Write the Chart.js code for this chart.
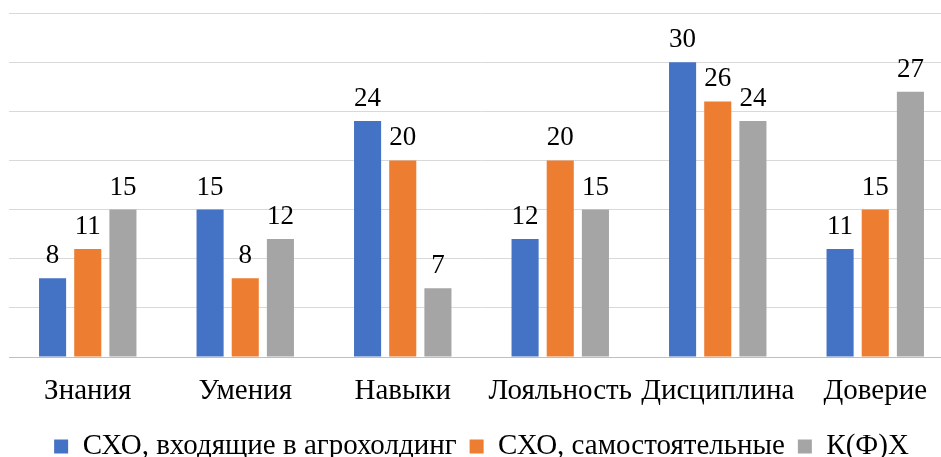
<!DOCTYPE html>
<html>
<head>
<meta charset="utf-8">
<script src="https://cdn.jsdelivr.net/npm/chart.js@4.4.1/dist/chart.umd.min.js"></script>
<style>
  html, body { margin: 0; padding: 0; background: #fff; overflow: hidden; }
  #wrap { width: 941px; height: 457px; overflow: hidden; }
</style>
</head>
<body>
<div id="wrap"><canvas id="skillsChart" width="960" height="457"></canvas></div>
<script>
// Categories and series values
const categories = ["Знания", "Умения", "Навыки", "Лояльность", "Дисциплина", "Доверие"];
const seriesNames = ["СХО, входящие в агрохолдинг", "СХО, самостоятельные", "К(Ф)Х"];
const holdingValues = [8, 15, 24, 12, 30, 11];
const independentValues = [11, 8, 20, 20, 26, 15];
const farmValues = [15, 12, 7, 15, 24, 27];
const seriesColors = ["#4472C4", "#ED7D31", "#A5A5A5"];

const serif = "Liberation Serif";
Chart.defaults.font.family = serif;

// Draws the value above every bar
const valueLabels = {
    id: 'valueLabels',
    afterDatasetsDraw(chart) {
        const ctx = chart.ctx;
        ctx.save();
        ctx.font = '27px "Liberation Serif"';
        ctx.fillStyle = "#000";
        ctx.textAlign = "center";
        ctx.textBaseline = "alphabetic";
        chart.data.datasets.forEach((ds, i) => {
            const meta = chart.getDatasetMeta(i);
            meta.data.forEach((bar, j) => {
                ctx.fillText(String(ds.data[j]), bar.x, bar.y - 15);
            });
        });
        ctx.restore();
    }
};

const valueSets = [holdingValues, independentValues, farmValues];

function drawChart() {
    new Chart(document.getElementById("skillsChart").getContext('2d'), {
        type: 'bar',
        data: {
            labels: categories,
            datasets: valueSets.map((vals, i) => ({
                label: seriesNames[i],
                data: vals,
                backgroundColor: seriesColors[i],
                borderWidth: 0,
                barPercentage: 0.77,
                categoryPercentage: 0.67
            }))
        },
        options: {
            responsive: false,
            animation: false,
            layout: { padding: { top: 13, left: 9, right: 6, bottom: -14 } },
            scales: {
                x: {
                    grid: { display: false, drawTicks: false },
                    border: { display: true, color: "#bfbfbf", width: 1 },
                    ticks: { color: "#000", font: { family: serif, size: 29 }, padding: 17, maxRotation: 0 },
                    afterFit(scale) { scale.height = 62; }
                },
                y: {
                    min: 0,
                    max: 35,
                    ticks: { display: false, stepSize: 5 },
                    grid: { color: "#d9d9d9", drawTicks: false },
                    border: { display: false }
                }
            },
            plugins: {
                legend: {
                    position: 'bottom',
                    labels: {
                        color: "#000",
                        font: { family: serif, size: 29 },
                        boxWidth: 14,
                        boxHeight: 14,
                        padding: 13
                    }
                },
                tooltip: { enabled: false }
            }
        },
        plugins: [valueLabels]
    });
}

if (document.fonts && document.fonts.load) {
    document.fonts.load('29px "Liberation Serif"').then(drawChart, drawChart);
} else {
    drawChart();
}
</script>
</body>
</html>
